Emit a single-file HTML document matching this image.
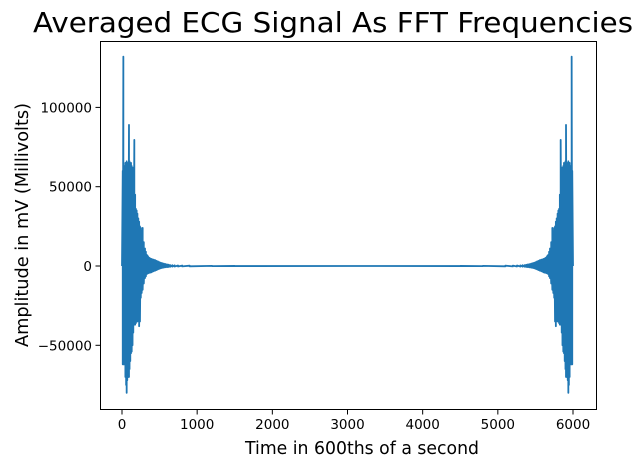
<!DOCTYPE html>
<html><head><meta charset="utf-8"><style>
body{margin:0;background:#fff;}
svg{display:block;font-family:"DejaVu Sans","Liberation Sans",sans-serif;}
</style></head><body>
<svg id="chart" width="644" height="468">
<rect width="644" height="468" fill="#fff"/>
<text x="333" y="32" font-size="28" text-anchor="middle" textLength="600" lengthAdjust="spacingAndGlyphs">Averaged ECG Signal As FFT Frequencies</text>
<g id="plot"></g>
<rect x="100.5" y="41.5" width="496" height="368" fill="none" stroke="#000" stroke-width="1"/>
<g id="xt"></g>
<g id="yt"></g>
<text x="362" y="454" font-size="17.5" text-anchor="middle" textLength="234" lengthAdjust="spacingAndGlyphs">Time in 600ths of a second</text>
<text transform="translate(28,225) rotate(-90)" font-size="17.5" text-anchor="middle" textLength="244" lengthAdjust="spacingAndGlyphs">Amplitude in mV (Millivolts)</text>
</svg>
<script>
const knotSamples=[0,10,18,25,35,45,55,62,70,80,93,100,110,120,129,140,150,164,175,185,195,205,217,228,239,250,262,275,290,306,318,330,340,350,362,375,390,405,420,439,455,470,480,495,510,528,545,560,580,600,620,640,670,700,745,800,900,1200,1500,3000];
const highVals=[0,60000,132000,60000,63000,65000,65000,66000,64000,65000,89000,66000,64000,65000,63000,62000,62000,79500,45000,36000,35000,33000,30000,28000,25000,24000,22000,24000,15000,11000,9000,7000,6500,5700,5200,4800,4500,4200,4000,3800,3300,3000,2800,2400,2100,1900,1600,1400,1200,1000,800,600,500,400,300,250,200,100,50,0];
const lowVals=[0,-62000,-62000,-60000,-62000,-70000,-75000,-80000,-72000,-70000,-70000,-65000,-60000,-55000,-54000,-50000,-42000,-37000,-37000,-36000,-35000,-35000,-30000,-38000,-35000,-20000,-17000,-15000,-11000,-7600,-6500,-5000,-4800,-4500,-4300,-4200,-4000,-3600,-3300,-3000,-2600,-2300,-2000,-1800,-1500,-1300,-1100,-950,-800,-700,-600,-500,-400,-350,-300,-250,-200,-100,-50,0];
const totalSamples=6000;
const xTicks=[0,1000,2000,3000,4000,5000,6000];
const yTicks=[-50000,0,50000,100000];
const yTickLabels=["\u221250000","0","50000","100000"];

const ns="http://www.w3.org/2000/svg";
const X=v=>122+(v)*(451/6000);
const Y=v=>266-v*(79.3/50000);
let pts=[];
for(let i=0;i<knotSamples.length;i++){pts.push([knotSamples[i],highVals[i]]);pts.push([knotSamples[i],lowVals[i]]);}
let right=[];
for(let i=knotSamples.length-1;i>=0;i--){right.push([totalSamples-knotSamples[i],lowVals[i]]);right.push([totalSamples-knotSamples[i],highVals[i]]);}
pts=pts.concat(right);
const d=pts.map((p,i)=>(i?"L":"M")+X(p[0]).toFixed(2)+","+Y(p[1]).toFixed(2)).join("");
const path=document.createElementNS(ns,"path");
path.setAttribute("d",d);path.setAttribute("fill","none");path.setAttribute("stroke","#1f77b4");
path.setAttribute("stroke-width","1.8");path.setAttribute("stroke-linejoin","round");


document.getElementById("plot").appendChild(path);

const xt=document.getElementById("xt");
xTicks.forEach(t=>{
  const l=document.createElementNS(ns,"line");
  l.setAttribute("x1",X(t));l.setAttribute("x2",X(t));l.setAttribute("y1",409.5);l.setAttribute("y2",414.5);l.setAttribute("stroke","#000");
  
  
  xt.appendChild(l);
  const tx=document.createElementNS(ns,"text");
  tx.setAttribute("x",X(t));tx.setAttribute("y",429);tx.setAttribute("font-size","13.5");tx.setAttribute("text-anchor","middle");
  tx.textContent=t;
  
  
  xt.appendChild(tx);
});
const yt=document.getElementById("yt");
yTicks.forEach((t,i)=>{
  const l=document.createElementNS(ns,"line");
  l.setAttribute("x1",95.5);l.setAttribute("x2",100.5);l.setAttribute("y1",Y(t));l.setAttribute("y2",Y(t));l.setAttribute("stroke","#000");
  
  
  yt.appendChild(l);
  const tx=document.createElementNS(ns,"text");
  tx.setAttribute("x",92);tx.setAttribute("y",Y(t)+5);tx.setAttribute("font-size","13.5");tx.setAttribute("text-anchor","end");
  tx.textContent=yTickLabels[i];
  
  
  yt.appendChild(tx);
});
</script>
</body></html>
